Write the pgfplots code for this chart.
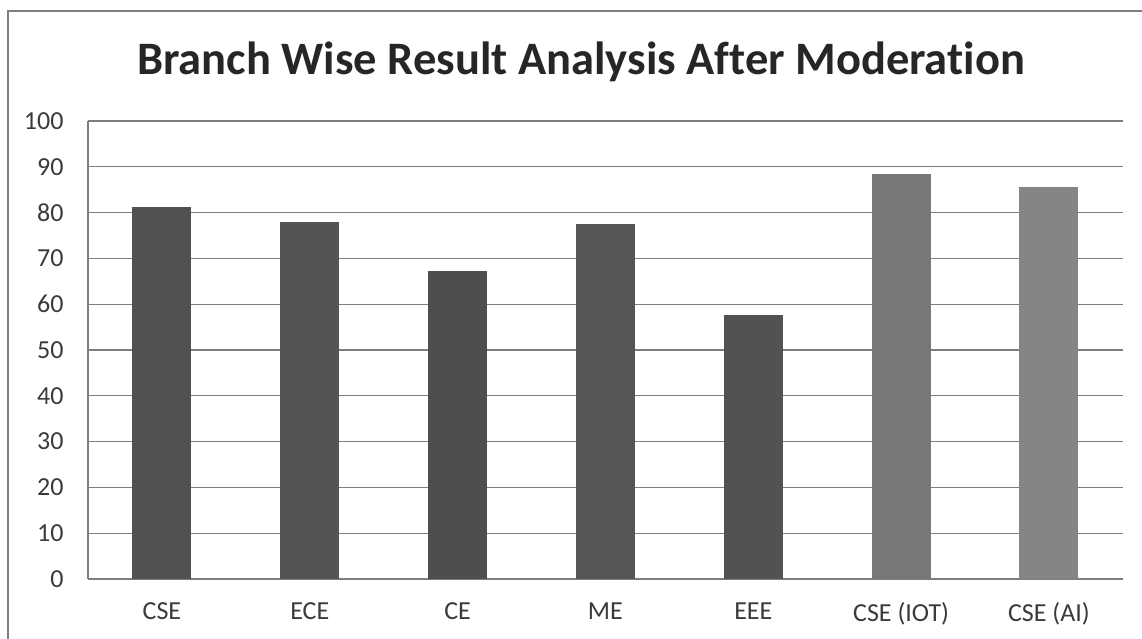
\documentclass[border=0pt]{standalone}
\usepackage{pgfplots}
\pgfplotsset{compat=1.18}
\usepackage{fontspec}
\setmainfont{Carlito}[Ligatures=NoCommon]
\definecolor{barA}{HTML}{515151}
\definecolor{barB}{HTML}{545454}
\definecolor{barC}{HTML}{4E4E4E}
\definecolor{barD}{HTML}{555555}
\definecolor{barE}{HTML}{525252}
\definecolor{barF}{HTML}{777777}
\definecolor{barG}{HTML}{858585}
\definecolor{gridc}{HTML}{7E7E7E}
\definecolor{txt}{HTML}{3A3A3A}
\begin{document}
\begin{tikzpicture}[x=1pt,y=1pt]
\useasboundingbox (0,0) rectangle (1142,639);
\draw[gridc,line width=1.2pt] (8,-5) -- (8,628) -- (1150,628);
\node[font=\fontsize{46.5}{50}\selectfont\bfseries,text=black!85,anchor=base] at (581,564) {Branch Wise Result Analysis After Moderation};
\begin{axis}[
  at={(88pt,60pt)}, anchor=south west,
  scale only axis, width=1035pt, height=458pt,
  xmin=-0.5, xmax=6.5, ymin=0, ymax=100,
  ytick={0,10,...,100},
  xtick={0,...,6},
  xticklabels={CSE,ECE,CE,ME,EEE,CSE (IOT),CSE (AI)},
  major tick length=0pt,
  ymajorgrids, grid style={gridc,line width=1.1pt},
  axis x line*=bottom, axis y line*=left,
  axis line style={gridc,line width=1.2pt},
  tick label style={font=\fontsize{26}{30}\selectfont,text=txt},
  /pgf/number format/assume math mode=true,
  yticklabel style={xshift=-21pt},
  xticklabel style={yshift=-20pt},
  ybar, bar width=59pt, bar shift=0pt,
]
\addplot[fill=barA,draw=none] coordinates {(0,81.2)};
\addplot[fill=barB,draw=none] coordinates {(1,77.9)};
\addplot[fill=barC,draw=none] coordinates {(2,67.2)};
\addplot[fill=barD,draw=none] coordinates {(3,77.6)};
\addplot[fill=barE,draw=none] coordinates {(4,57.6)};
\addplot[fill=barF,draw=none] coordinates {(5,88.5)};
\addplot[fill=barG,draw=none] coordinates {(6,85.5)};
\end{axis}
\end{tikzpicture}
\end{document}
